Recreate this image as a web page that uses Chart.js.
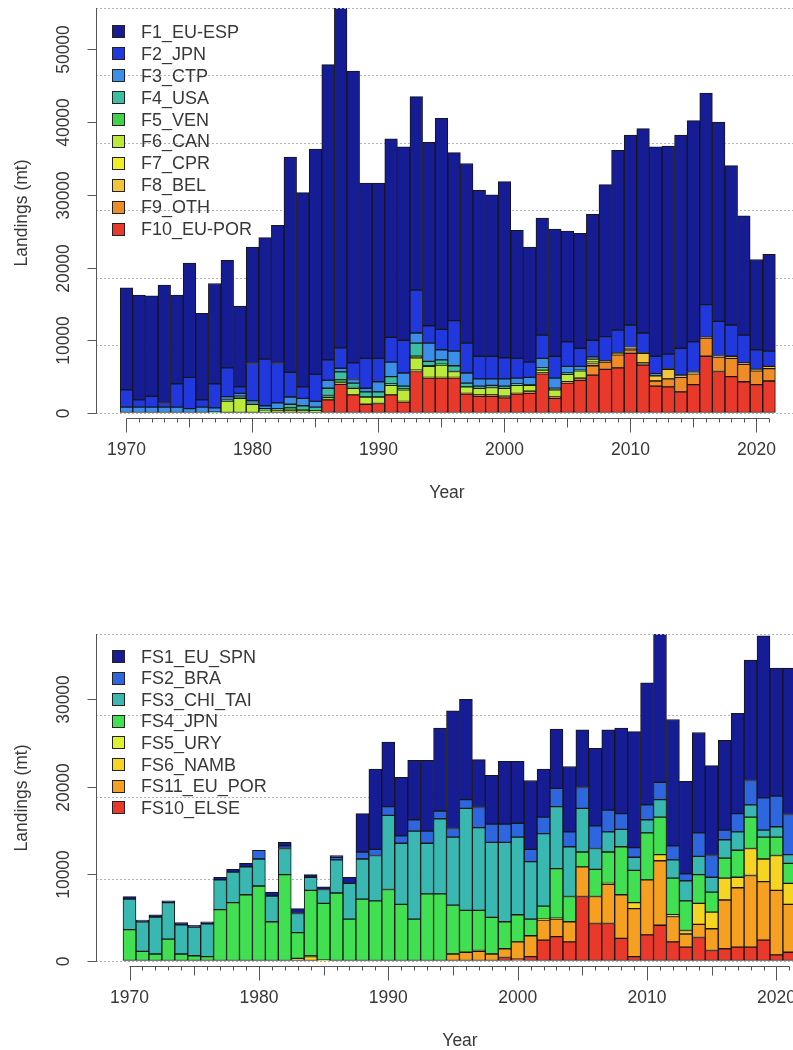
<!DOCTYPE html>
<html>
<head>
<meta charset="utf-8">
<script src="https://cdn.jsdelivr.net/npm/chart.js@4.4.1/dist/chart.umd.min.js"></script>
<style>
  html, body { margin: 0; padding: 0; background: #fff; }
  body { width: 793px; height: 1050px; position: relative; overflow: hidden; }
  canvas { position: absolute; left: 0; }
  #topChart { top: 0; }
  #bottomChart { top: 525px; }
</style>
</head>
<body>
<canvas id="topChart" width="793" height="525"></canvas>
<canvas id="bottomChart" width="793" height="525"></canvas>
<script>
// Years (both panels)
const years = [1970,1971,1972,1973,1974,1975,1976,1977,1978,1979,
  1980,1981,1982,1983,1984,1985,1986,1987,1988,1989,
  1990,1991,1992,1993,1994,1995,1996,1997,1998,1999,
  2000,2001,2002,2003,2004,2005,2006,2007,2008,2009,
  2010,2011,2012,2013,2014,2015,2016,2017,2018,2019,
  2020,2021];

// Top panel - landings by fleet (mt)
const f1EuEsp = [14000,14400,13800,16300,12200,15700,11900,13800,14800,11100,
  16000,16700,19000,29600,26700,31000,40600,47550,40100,24100,
  24100,27300,26600,26600,25200,29000,23100,24700,22800,22200,
  24200,17600,15800,16100,17500,15200,15800,17300,20900,24700,
  26100,28100,28800,28600,29300,30400,29100,27400,21900,16400,
  12400,13300];
const f2Jpn = [2400,1000,1500,500,3200,4300,1000,3300,3950,900,
  5100,6400,5400,3400,1600,3700,2800,2800,2300,4100,
  3200,3400,4500,5900,2400,2800,4200,4100,3100,3100,
  2900,2700,2100,3200,3000,3400,2500,2300,3300,3100,
  3100,2700,2400,2000,3700,4100,4500,4700,4300,3800,
  2700,2100];
const f3Ctp = [800,800,800,800,800,600,800,600,400,400,
  400,400,800,1000,1000,800,1100,500,500,500,
  1400,2000,1800,1400,2500,1400,2000,1400,1000,900,
  1000,800,1000,1300,1400,900,500,300,100,0,
  0,0,300,0,0,200,0,0,0,0,
  0,0];
const f4Usa = [0,0,0,0,0,0,0,0,200,200,
  100,200,200,500,600,500,1000,1100,600,700,
  700,1000,400,1800,600,600,800,500,300,300,
  300,200,100,200,200,200,100,0,0,0,
  0,0,0,0,0,0,0,0,0,0,
  0,0];
const f5Ven = [0,0,0,0,0,0,0,100,0,100,
  0,100,0,300,0,0,300,300,100,0,
  0,200,100,200,100,100,0,0,0,0,
  0,0,0,100,0,0,0,0,0,0,
  0,0,0,0,0,0,0,0,0,0,
  0,0];
const f6Can = [0,0,0,0,0,0,0,0,1650,2000,
  1200,300,400,400,400,300,300,300,900,1000,
  900,1300,1600,1700,1500,1700,800,900,900,1000,
  1100,1100,800,400,1000,1000,1000,400,0,0,
  0,0,0,0,0,0,0,0,0,0,
  0,0];
const f7Cpr = [0,0,0,0,0,0,0,0,0,0,
  0,0,0,0,0,0,0,0,0,0,
  0,0,100,200,100,100,100,0,0,0,
  0,0,0,0,0,0,0,200,0,100,
  100,100,0,100,0,0,0,0,0,0,
  0,0];
const f8Bel = [0,0,0,0,0,0,0,0,0,0,
  0,0,0,0,0,0,0,0,0,0,
  0,0,0,0,0,0,0,0,0,0,
  0,0,0,0,0,0,0,300,100,200,
  200,1300,700,1300,300,100,100,200,300,200,
  200,300];
const f9Oth = [0,0,0,0,0,0,0,0,0,0,
  0,0,0,0,0,0,0,0,0,0,
  0,0,0,0,0,0,0,100,200,200,
  200,100,300,100,200,200,300,1300,1000,1800,
  500,300,700,1100,2000,1500,2500,2000,2500,2400,
  1900,1700];
const f10EuPor = [0,0,0,0,0,0,0,0,0,0,
  0,0,0,0,0,0,1800,3950,2500,1200,
  1300,2500,1500,5700,4800,4800,4800,2600,2300,2300,
  2100,2600,2700,5400,2000,4100,4500,5200,6000,6200,
  8200,6600,3700,3600,2900,3900,7800,5700,5000,4300,
  3900,4400];

// Bottom panel - landings by fleet (mt)
const fs1EuSpn = [300,200,250,200,250,200,250,300,300,400,
  0,450,400,550,300,300,200,700,4400,9200,
  7400,6700,6800,8100,9500,13500,11500,5500,5600,7200,
  7100,7900,5500,6800,7500,6600,8900,9200,9800,13300,
  14000,17500,14500,10600,11500,10300,10300,11500,13800,18600,
  14700,16800];
const fs2Bra = [0,0,0,0,0,0,0,0,0,0,
  1000,0,300,0,0,0,300,0,800,700,
  1000,850,1300,1400,900,1000,1000,2300,2100,2100,
  1600,1400,1900,2100,1700,2400,2600,2500,1800,1100,
  1700,2000,1600,800,2700,2500,1100,2100,2800,3700,
  3500,4600];
const fs3ChiTai = [3500,3400,4250,4200,3350,3300,3750,3400,3500,3200,
  3100,2950,3000,2200,1500,1600,3800,4100,4600,5200,
  8500,7000,10100,5800,8600,7800,11700,9500,8600,9100,
  8900,6600,8300,7100,5700,5000,2400,2300,2000,1500,
  1500,2000,2100,2300,2100,1700,2100,2100,1400,800,
  1200,1000];
const fs4Jpn = [3600,1100,800,2500,800,600,500,5900,6700,7600,
  8600,4500,9900,2950,7500,6500,7800,4800,7100,6900,
  8200,6500,4800,7700,7700,5600,4800,4600,4200,3100,
  3100,1900,1500,5700,2900,1700,3100,3600,5500,3700,
  5400,4300,4200,3400,3300,2300,2300,3100,3600,2500,
  2100,2300];
const fs5Ury = [0,0,0,0,0,0,0,0,0,0,
  0,0,0,0,100,0,0,0,0,0,
  0,0,0,0,0,0,0,0,0,0,
  0,0,0,0,0,0,0,0,0,0,
  0,0,0,0,0,0,0,0,0,0,
  0,0];
const fs6Namb = [0,0,0,0,0,0,0,0,0,0,
  0,0,0,300,500,100,0,0,0,0,
  0,0,0,0,0,0,0,100,0,0,
  0,0,100,100,0,0,0,100,0,700,
  0,700,200,400,2400,1900,2500,1200,3100,2600,
  4000,2400];
const fs11EuPor = [0,0,0,0,0,0,0,0,0,0,
  0,0,0,0,0,0,0,0,0,0,
  0,0,0,0,0,800,1000,1100,800,1000,
  2000,2400,2300,2000,2300,3400,3100,4500,5000,5500,
  6300,7400,2900,1500,1500,2500,5600,6800,8200,6700,
  7400,5500];
const fs10Else = [0,0,0,0,0,0,0,0,0,0,
  0,0,0,0,0,0,0,0,0,0,
  0,0,0,0,0,0,0,0,0,400,
  200,500,2400,2800,2200,7400,4300,4300,2600,500,
  3000,4100,2200,1600,2700,1200,1400,1600,1600,2400,
  700,1000];

const topTicks = [0, 10000, 20000, 30000, 40000, 50000];
const bottomTicks = [0, 10000, 20000, 30000];
const decadeLabels = [1970, 1980, 1990, 2000, 2010, 2020];

const FONT = '"Liberation Sans", Arial, Helvetica, sans-serif';
const TEXT = '#383838';
const AXIS = '#555555';
const GRID = '#b4b4b4';

// R-style axes, titles and legend drawn over the chart
const rStyleAxes = {
  id: 'rStyleAxes',
  afterDraw(chart, args, opts) {
    const { ctx, chartArea: area, scales: { x, y } } = chart;
    const y0 = Math.round(y.getPixelForValue(0)) + 0.5;
    const left = Math.round(area.left) + 0.5;
    ctx.save();

    // dotted line at the top of the plot
    ctx.strokeStyle = GRID;
    ctx.lineWidth = 1;
    ctx.setLineDash([2, 2]);
    ctx.beginPath();
    ctx.moveTo(area.left, Math.round(area.top) + 0.5);
    ctx.lineTo(area.right, Math.round(area.top) + 0.5);
    ctx.stroke();
    ctx.setLineDash([]);

    // y axis
    ctx.strokeStyle = AXIS;
    ctx.beginPath();
    ctx.moveTo(left, y0);
    ctx.lineTo(left, area.top);
    ctx.stroke();
    ctx.fillStyle = TEXT;
    ctx.font = '17.5px ' + FONT;
    ctx.textAlign = 'center';
    ctx.textBaseline = 'middle';
    opts.yTicks.forEach((v) => {
      const py = Math.round(y.getPixelForValue(v)) + 0.5;
      ctx.beginPath();
      ctx.moveTo(left - 9, py);
      ctx.lineTo(left, py);
      ctx.stroke();
      ctx.save();
      ctx.translate(64, py);
      ctx.rotate(-Math.PI / 2);
      ctx.fillText(String(v), 0, 0);
      ctx.restore();
    });

    // x axis with yearly ticks
    const ax = y0 + 5;
    const first = years[0];
    const last = years[years.length - 1];
    ctx.beginPath();
    ctx.moveTo(x.getPixelForValue(first), ax);
    ctx.lineTo(x.getPixelForValue(last), ax);
    ctx.stroke();
    years.forEach((yr) => {
      const px = Math.round(x.getPixelForValue(yr)) + 0.5;
      if (px > chart.width) return;
      const len = yr % 10 === 0 ? 14 : (yr % 5 === 0 ? 9 : 4);
      ctx.beginPath();
      ctx.moveTo(px, ax);
      ctx.lineTo(px, ax + len);
      ctx.stroke();
    });
    decadeLabels.forEach((yr) => {
      ctx.fillText(String(yr), x.getPixelForValue(yr), y0 + 37);
    });

    // axis titles
    ctx.fillText('Year', opts.xTitleX, y0 + 80);
    ctx.save();
    ctx.translate(22, opts.yTitleY);
    ctx.rotate(-Math.PI / 2);
    ctx.fillText('Landings (mt)', 0, 0);
    ctx.restore();

    // legend, top series first
    ctx.font = '18px ' + FONT;
    ctx.textAlign = 'left';
    const sets = chart.data.datasets.slice().reverse();
    sets.forEach((ds, i) => {
      const cy = opts.legendTop + i * opts.legendStep;
      ctx.fillStyle = ds.backgroundColor;
      ctx.fillRect(112, Math.round(cy - 6.5), 13, 13);
      ctx.strokeStyle = '#222';
      ctx.strokeRect(112.5, Math.round(cy - 6.5) + 0.5, 12, 12);
      ctx.fillStyle = TEXT;
      ctx.fillText(ds.label, 141, cy + 1);
    });
    ctx.restore();
  }
};

function makeChart(id, series, opts) {
  return new Chart(document.getElementById(id), {
    type: 'bar',
    data: {
      labels: years,
      datasets: series.map((s) => ({
        label: s.label,
        data: s.data,
        backgroundColor: s.color,
        borderColor: '#161616',
        borderWidth: 1,
        borderSkipped: false,
        barPercentage: 1,
        categoryPercentage: 1
      }))
    },
    options: {
      responsive: false,
      animation: false,
      layout: { padding: { left: 96, right: 0, top: opts.padTop, bottom: opts.padBottom } },
      plugins: {
        legend: { display: false },
        tooltip: { enabled: false },
        rStyleAxes: opts.axes
      },
      scales: {
        x: {
          type: 'linear',
          display: false,
          stacked: true,
          offset: false,
          min: opts.xMin,
          max: opts.xMax
        },
        y: {
          stacked: true,
          min: 0,
          max: opts.yMax,
          ticks: { display: false, stepSize: 10000, includeBounds: false },
          grid: { color: GRID, lineWidth: 1, drawTicks: false },
          border: { display: false, dash: [2, 2] }
        }
      }
    },
    plugins: [rStyleAxes]
  });
}

makeChart('topChart', [
  { label: 'F10_EU-POR', data: f10EuPor, color: '#e8392a' },
  { label: 'F9_OTH', data: f9Oth, color: '#f08c28' },
  { label: 'F8_BEL', data: f8Bel, color: '#f3c53a' },
  { label: 'F7_CPR', data: f7Cpr, color: '#f2ee24' },
  { label: 'F6_CAN', data: f6Can, color: '#bbea3a' },
  { label: 'F5_VEN', data: f5Ven, color: '#3fd34c' },
  { label: 'F4_USA', data: f4Usa, color: '#3bbfa3' },
  { label: 'F3_CTP', data: f3Ctp, color: '#3b8fe9' },
  { label: 'F2_JPN', data: f2Jpn, color: '#2238df' },
  { label: 'F1_EU-ESP', data: f1EuEsp, color: '#151c94' }
], {
  padTop: 8, padBottom: 112,
  xMin: 1967.58, xMax: 2022.9, yMax: 55680,
  axes: { yTicks: topTicks, xTitleX: 447, yTitleY: 213, legendTop: 31.7, legendStep: 21.96 }
});

makeChart('bottomChart', [
  { label: 'FS10_ELSE', data: fs10Else, color: '#e8392a' },
  { label: 'FS11_EU_POR', data: fs11EuPor, color: '#f5a020' },
  { label: 'FS6_NAMB', data: fs6Namb, color: '#f5d522' },
  { label: 'FS5_URY', data: fs5Ury, color: '#dcf22f' },
  { label: 'FS4_JPN', data: fs4Jpn, color: '#41e052' },
  { label: 'FS3_CHI_TAI', data: fs3ChiTai, color: '#39b7b1' },
  { label: 'FS2_BRA', data: fs2Bra, color: '#2e66e0' },
  { label: 'FS1_EU_SPN', data: fs1EuSpn, color: '#151c94' }
], {
  padTop: 109, padBottom: 89,
  xMin: 1967.41, xMax: 2021.28, yMax: 37500,
  axes: { yTicks: bottomTicks, xTitleX: 460, yTitleY: 273, legendTop: 131.7, legendStep: 21.57 }
});
</script>
</body>
</html>
